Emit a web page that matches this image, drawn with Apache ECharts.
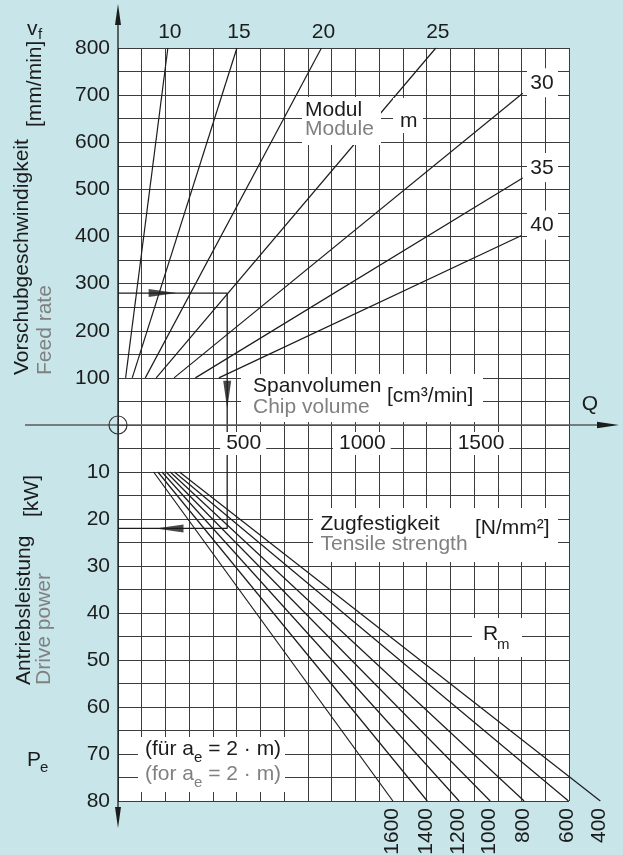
<!DOCTYPE html>
<html>
<head>
<meta charset="utf-8">
<script src="https://cdn.jsdelivr.net/npm/echarts@6/dist/echarts.min.js"></script>
<style>
html,body{margin:0;padding:0;background:#c8e6e9;}
#chart{width:623px;height:855px;}
</style>
</head>
<body>
<div id="chart"></div>
<script>
// ---------------- data ----------------
const modules = [10, 15, 20, 25, 30, 35, 40];
const moduleStartQ = [32, 60, 115, 161, 236, 326, 425];
const moduleStartFeed = [100, 100, 100, 100, 100, 100, 100];
const moduleEndQ = [210, 501, 857, 1339, 1705, 1705, 1700];
const moduleEndFeed = [800, 800, 800, 800, 704, 524, 402];

const strengths = [1600, 1400, 1200, 1000, 800, 600, 400];
const strengthStartQ = [150, 168, 185, 203, 220, 238, 259];
const strengthStartPower = [10, 10, 10, 10, 10, 10, 10];
const strengthEndQ = [1158, 1303, 1437, 1568, 1711, 1898, 2032];
const strengthEndPower = [80, 80, 80, 80, 80, 80, 80];

const feedTicks = [100, 200, 300, 400, 500, 600, 700, 800];
const powerTicks = [10, 20, 30, 40, 50, 60, 70, 80];
const qTicks = [500, 1000, 1500];

const exampleFeed = 280;
const exampleQ = 460;
const examplePower = 22;
const arrowRightQ = 188;
const arrowDownFeed = 64;
const arrowLeftQ = 217;

// ---------------- styling ----------------
const FONT = '"Liberation Sans", Arial, Helvetica, sans-serif';
const BLACK = '#1c1c1c';
const GRAY = '#808080';
const GRID = '#3c3c3c';
const BG = '#c8e6e9';

const Q_MAX = 1900;          // grid extent of the Q axis
const Q_MAX_EXT = 2100;      // extended extent for the strength lines (400 line runs past the grid)
const GRID_LEFT = 118, GRID_W = 451;

const axisCommon = {
  type: 'value',
  axisLine: { show: false },
  axisTick: { show: false },
  splitLine: { show: true, lineStyle: { color: GRID, width: 1 } }
};
const hiddenAxis = {
  type: 'value', axisLine: { show: false }, axisTick: { show: false },
  axisLabel: { show: false }, splitLine: { show: false }
};

const series = [];
modules.forEach((m, i) => {
  series.push({
    type: 'line', name: 'm' + m, xAxisIndex: 0, yAxisIndex: 0,
    data: [[moduleStartQ[i], moduleStartFeed[i]], [moduleEndQ[i], moduleEndFeed[i]]],
    symbol: 'none', silent: true, z: 3,
    lineStyle: { color: BLACK, width: 1.2 }
  });
});
strengths.forEach((r, i) => {
  series.push({
    type: 'line', name: 'Rm' + r, xAxisIndex: 2, yAxisIndex: 2, clip: false,
    data: [[strengthStartQ[i], strengthStartPower[i]], [strengthEndQ[i], strengthEndPower[i]]],
    symbol: 'none', silent: true, z: 3,
    lineStyle: { color: BLACK, width: 1.2 }
  });
});
series.push({
  type: 'line', xAxisIndex: 0, yAxisIndex: 0, symbol: 'none', silent: true, z: 3,
  data: [[0, exampleFeed], [exampleQ, exampleFeed], [exampleQ, 0]],
  lineStyle: { color: BLACK, width: 1.3 }
});
series.push({
  type: 'line', xAxisIndex: 1, yAxisIndex: 1, symbol: 'none', silent: true, z: 3,
  data: [[exampleQ, 0], [exampleQ, examplePower], [0, examplePower]],
  lineStyle: { color: BLACK, width: 1.3 }
});
series.push({
  type: 'scatter', xAxisIndex: 0, yAxisIndex: 0, symbol: 'triangle', symbolSize: [8, 28], silent: true, z: 4,
  itemStyle: { color: BLACK },
  data: [
    { value: [arrowRightQ, exampleFeed], symbolRotate: -90 },
    { value: [exampleQ, arrowDownFeed], symbolRotate: 180 }
  ]
});
series.push({
  type: 'scatter', xAxisIndex: 1, yAxisIndex: 1, symbol: 'triangle', symbolSize: [8, 28], silent: true, z: 4,
  itemStyle: { color: BLACK },
  data: [{ value: [arrowLeftQ, examplePower], symbolRotate: 90 }]
});

const option = {
  animation: false,
  backgroundColor: BG,
  grid: [
    { left: GRID_LEFT, top: 48, width: GRID_W, height: 377, show: true, backgroundColor: '#fff', borderWidth: 0, outerBoundsMode: 'none' },
    { left: GRID_LEFT, top: 425, width: GRID_W, height: 376, show: true, backgroundColor: '#fff', borderWidth: 0, outerBoundsMode: 'none' },
    { left: GRID_LEFT, top: 425, width: GRID_W * Q_MAX_EXT / Q_MAX, height: 376, show: false, outerBoundsMode: 'none' }
  ],
  xAxis: [
    Object.assign({}, axisCommon, { gridIndex: 0, min: 0, max: Q_MAX, interval: 100, axisLabel: { show: false } }),
    Object.assign({}, axisCommon, { gridIndex: 1, min: 0, max: Q_MAX, interval: 100, axisLabel: { show: false } }),
    Object.assign({}, hiddenAxis, { gridIndex: 2, min: 0, max: Q_MAX_EXT })
  ],
  yAxis: [
    Object.assign({}, axisCommon, {
      gridIndex: 0, min: 0, max: 800, interval: 50,
      axisLabel: { margin: 8, fontSize: 21, color: BLACK, fontFamily: FONT,
        formatter: v => feedTicks.includes(v) ? String(v) : '' }
    }),
    Object.assign({}, axisCommon, {
      gridIndex: 1, min: 0, max: 80, interval: 5, inverse: true,
      axisLabel: { margin: 8, fontSize: 21, color: BLACK, fontFamily: FONT,
        formatter: v => powerTicks.includes(v) ? String(v) : '' }
    }),
    Object.assign({}, hiddenAxis, { gridIndex: 2, min: 0, max: 80, inverse: true })
  ],
  series: series
};

const chart = echarts.init(document.getElementById('chart'), null, { renderer: 'canvas' });
chart.setOption(option);

const P0 = (q, v) => chart.convertToPixel({ gridIndex: 0 }, [q, v]);
const P2 = (q, p) => chart.convertToPixel({ gridIndex: 2 }, [q, p]);

const mctx = document.createElement('canvas').getContext('2d');
function tw(s, size) { mctx.font = size + 'px ' + FONT; return mctx.measureText(s).width; }

const g = [];
function box(x, y, w, h) {
  g.push({ type: 'rect', silent: true, z: 50, shape: { x: x, y: y, width: w, height: h }, style: { fill: '#fff' } });
}
function txt(s, x, y, o) {
  o = o || {};
  g.push({
    type: 'text', silent: true, z: 60, x: x, y: y, rotation: o.rot || 0,
    style: {
      text: s, fill: o.color || BLACK, fontSize: o.size || 21, fontFamily: FONT,
      align: o.align || 'left', verticalAlign: 'middle'
    }
  });
}

const o = P0(0, 0);
const ox = o[0], oy = o[1];
const right = P0(Q_MAX, 800)[0];

// axes with arrows
g.push({ type: 'line', silent: true, z: 70, shape: { x1: 25, y1: oy, x2: 605, y2: oy }, style: { stroke: '#5a5a5a', lineWidth: 1.5 } });
g.push({ type: 'polygon', silent: true, z: 71, shape: { points: [[619, oy], [597, oy - 3.2], [597, oy + 3.2]] }, style: { fill: BLACK } });
g.push({ type: 'line', silent: true, z: 70, shape: { x1: ox, y1: 12, x2: ox, y2: 820 }, style: { stroke: BLACK, lineWidth: 1.3 } });
g.push({ type: 'polygon', silent: true, z: 71, shape: { points: [[ox, 4], [ox - 3, 25], [ox + 3, 25]] }, style: { fill: BLACK } });
g.push({ type: 'polygon', silent: true, z: 71, shape: { points: [[ox, 828], [ox - 3, 807], [ox + 3, 807]] }, style: { fill: BLACK } });
g.push({ type: 'circle', silent: true, z: 72, shape: { cx: ox, cy: oy, r: 9 }, style: { fill: 'none', stroke: '#333', lineWidth: 1.2 } });
txt('Q', 590, 404, { align: 'center' });

// axis titles
txt('v', 27, 29);
txt('f', 38, 35, { size: 15 });
txt('P', 27, 760);
txt('e', 40, 768, { size: 15 });
txt('Vorschubgeschwindigkeit', 22.5, 375, { rot: Math.PI / 2 });
txt('Feed rate', 45.5, 375, { rot: Math.PI / 2, color: GRAY });
txt('[mm/min]', 35.5, 127, { rot: Math.PI / 2 });
txt('Antriebsleistung', 24, 685, { rot: Math.PI / 2 });
txt('Drive power', 44, 685, { rot: Math.PI / 2, color: GRAY });
txt('[kW]', 32.5, 517, { rot: Math.PI / 2 });

// module labels
modules.forEach((m, i) => {
  const p = P0(moduleEndQ[i], moduleEndFeed[i]);
  if (moduleEndFeed[i] >= 800) {
    txt(String(m), p[0] + 2, 32, { align: 'center' });
  } else {
    const cy = p[1] - 10;
    box(right - 42, cy - 15, 31, 29);
    txt(String(m), right - 27, cy, { align: 'center' });
  }
});

// Modul / Module / m
box(302, 97, 79, 48);
txt('Modul', 305, 110.5);
txt('Module', 305, 129, { color: GRAY });
box(393, 98, 30, 35);
txt('m', 400, 121);

// Spanvolumen box
box(241, 374, 242, 48);
txt('Spanvolumen', 253, 386.5);
txt('Chip volume', 253, 407, { color: GRAY });
txt('[cm³/min]', 387, 396.5);

// Q tick labels
qTicks.forEach(q => {
  const x = P0(q, 0)[0] + 7;
  const w = tw(String(q), 21);
  box(x - w / 2 - 6, oy + 7, w + 11, 23);
  txt(String(q), x, oy + 18, { align: 'center' });
});

// Zugfestigkeit box
box(313, 508, 245, 54);
txt('Zugfestigkeit', 320.5, 524);
txt('Tensile strength', 320.5, 544, { color: GRAY });
txt('[N/mm²]', 475, 528.5);

// R_m box
box(472, 618, 50, 39);
txt('R', 483, 634);
txt('m', 497, 645, { size: 15 });

// für a_e box
box(138, 737, 147, 55);
function subLine(pre, post, x, y, color) {
  txt(pre, x, y, { color: color });
  const w1 = tw(pre, 21);
  txt('e', x + w1, y + 9, { size: 15, color: color });
  const w2 = tw('e', 15);
  txt(post, x + w1 + w2, y, { color: color });
}
subLine('(für a', ' = 2 · m)', 145, 749, BLACK);
subLine('(for a', ' = 2 · m)', 145, 774, GRAY);

// Rm labels under the chart
strengths.forEach((r, i) => {
  const p = P2(strengthEndQ[i], strengthEndPower[i]);
  txt(String(r), p[0] - 1, 808, { rot: Math.PI / 2, align: 'right' });
});

chart.setOption({ graphic: g });
</script>
</body>
</html>
